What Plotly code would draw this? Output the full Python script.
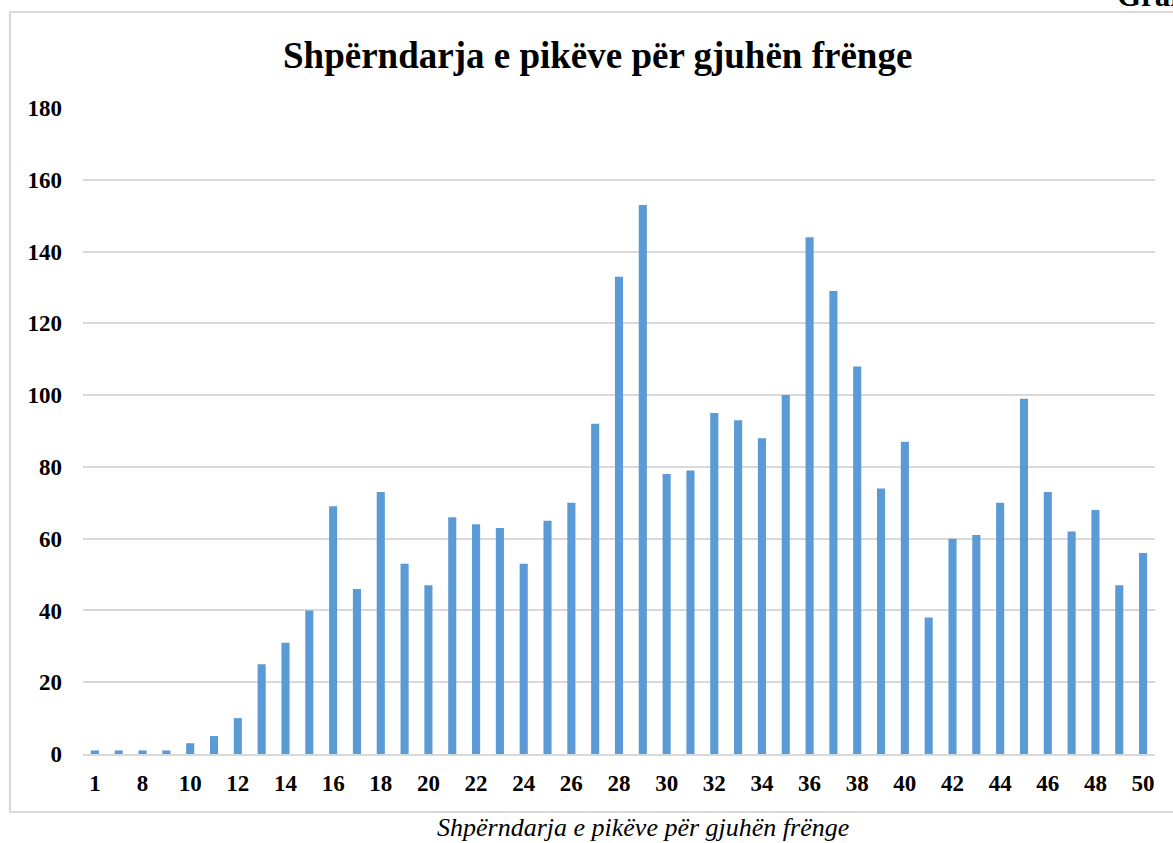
import plotly.graph_objects as go

categories = ["1", "7", "8", "9", "10", "11", "12", "13", "14", "15", "16", "17", "18", "19", "20",
              "21", "22", "23", "24", "25", "26", "27", "28", "29", "30", "31", "32", "33", "34", "35",
              "36", "37", "38", "39", "40", "41", "42", "43", "44", "45", "46", "47", "48", "49", "50"]
values = [1, 1, 1, 1, 3, 5, 10, 25, 31, 40, 69, 46, 73, 53, 47,
          66, 64, 63, 53, 65, 70, 92, 133, 153, 78, 79, 95, 93, 88, 100,
          144, 129, 108, 74, 87, 38, 60, 61, 70, 99, 73, 62, 68, 47, 56]
shown_ticks = categories[0::2]
y_ticks = [0, 20, 40, 60, 80, 100, 120, 140, 160, 180]

title_text = "Shpërndarja e pikëve për gjuhën frënge"
caption_text = "Shpërndarja e pikëve për gjuhën frënge"

W, H = 1173, 843
L, R, T, B = 83, 18, 108, 89
pw, ph = W - L - R, H - T - B

def px_x(p):
    return (p - L) / pw

def px_y(p):
    return (H - B - p) / ph

font_fam = "Liberation Serif, Times New Roman, serif"

fig = go.Figure(go.Bar(
    x=categories, y=values,
    marker=dict(color="#5B9BD5", line=dict(width=0)),
))

fig.update_layout(
    width=W, height=H,
    margin=dict(l=L, r=R, t=T, b=B),
    paper_bgcolor="white", plot_bgcolor="white",
    bargap=0.66,
    showlegend=False,
    font=dict(family=font_fam, color="black"),
    xaxis=dict(
        type="category", categoryorder="array", categoryarray=categories,
        tickmode="array", tickvals=shown_ticks, ticktext=["<b>%s</b>" % t for t in shown_ticks],
        tickfont=dict(size=23, family=font_fam, color="black"),
        showgrid=False, showline=True, linecolor="#d9d9d9", linewidth=2,
        ticks="", ticklabelstandoff=7,
    ),
    yaxis=dict(
        range=[0, 180], tickmode="array", tickvals=y_ticks,
        ticktext=["<b>%d</b>" % v for v in y_ticks],
        tickfont=dict(size=23, family=font_fam, color="black"),
        showgrid=True, gridcolor="#d9d9d9", gridwidth=2,
        zeroline=False, showline=False, ticks="", ticklabelstandoff=20,
    ),
    shapes=[dict(
        type="rect", xref="paper", yref="paper",
        x0=px_x(10), x1=px_x(1180), y0=px_y(812), y1=px_y(12),
        line=dict(color="#d9d9d9", width=2), fillcolor="rgba(0,0,0,0)", layer="below",
    )],
    annotations=[
        dict(text="<b>" + title_text + "</b>", xref="paper", yref="paper",
             x=px_x(597), y=px_y(56), xanchor="center", yanchor="middle",
             showarrow=False, font=dict(size=37, family=font_fam, color="black")),
        dict(text="<i>" + caption_text + "</i>", xref="paper", yref="paper",
             x=px_x(643), y=px_y(827), xanchor="center", yanchor="middle",
             showarrow=False, font=dict(size=26, family=font_fam, color="black")),
        dict(text="<b>Grafiku</b>", xref="paper", yref="paper",
             x=px_x(1115), y=px_y(15), xanchor="left", yanchor="bottom",
             showarrow=False, font=dict(size=31, family=font_fam, color="black")),
    ],
)

fig.write_html("out.html", config={"displayModeBar": False},
               post_script="document.body.style.margin='0';document.body.style.overflow='hidden';")
